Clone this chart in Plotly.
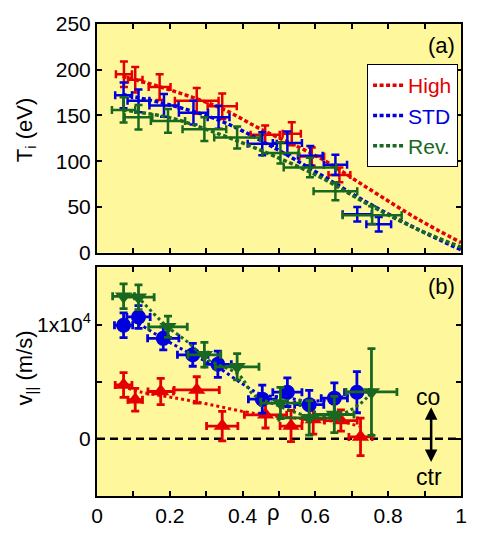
import plotly.graph_objects as go

# ---- panel (a): ion temperature profiles ----
high_rho = [0.074, 0.105, 0.172, 0.274, 0.344, 0.462, 0.535, 0.590, 0.666]
high_ti = [195, 189, 181, 166, 160, 129, 130, 105, 85]
high_ti_err = [14, 14, 14, 14, 14, 10, 12.5, 10, 8]
high_rho_err = [0.022, 0.02, 0.03, 0.06, 0.04, 0.04, 0.025, 0.034, 0.03]

std_rho = [0.073, 0.114, 0.184, 0.265, 0.334, 0.454, 0.523, 0.586, 0.655, 0.715, 0.774]
std_ti = [172, 166, 161, 153, 148, 119, 120, 106, 96, 42, 31]
std_ti_err = [14, 12.5, 12.5, 13, 12.5, 12.5, 12.5, 10.7, 11, 8, 8]
std_rho_err = [0.023, 0.03, 0.04, 0.04, 0.03, 0.04, 0.04, 0.034, 0.032, 0.04, 0.034]

rev_rho = [0.073, 0.114, 0.195, 0.295, 0.385, 0.504, 0.585, 0.655, 0.756]
rev_ti = [156, 148, 144, 135, 126, 109, 93, 67, 41]
rev_ti_err = [13.8, 13.4, 13, 13, 12, 11.6, 10.7, 9.8, 9.8]
rev_rho_err = [0.032, 0.038, 0.047, 0.06, 0.063, 0.05, 0.072, 0.06, 0.081]

# fitted profiles (dashed lines)
high_fit_rho = [0.07, 0.20, 0.34, 0.45, 0.61, 0.75, 0.88, 1.0]
high_fit_ti = [193, 178, 158, 135, 104, 69, 37, 11]
std_fit_rho = [0.07, 0.205, 0.34, 0.476, 0.611, 0.746, 0.881, 1.0]
std_fit_ti = [173, 161, 144, 117, 86, 54, 25.5, 3]
rev_fit_rho = [0.07, 0.205, 0.34, 0.449, 0.611, 0.746, 0.881, 1.0]
rev_fit_ti = [156, 147, 129, 112, 83, 52.6, 25.5, 6]

# ---- panel (b): parallel flow profiles ----
high_v_rho = [0.073, 0.105, 0.175, 0.274, 0.344, 0.463, 0.533, 0.594, 0.670, 0.724]
high_v = [4710, 3420, 4140, 4280, 1120, 2100, 1120, 1700, 1600, 170]
high_v_err = [1080, 1000, 1150, 1150, 1290, 1150, 1360, 1290, 930, 1640]
high_v_rho_err = [0.023, 0.02, 0.035, 0.062, 0.043, 0.058, 0.03, 0.03, 0.045, 0.032]

std_v_rho = [0.073, 0.114, 0.182, 0.263, 0.332, 0.454, 0.523, 0.583, 0.652, 0.714]
std_v = [9940, 10660, 8790, 7350, 6520, 3470, 4080, 2990, 3560, 4080]
std_v_err = [1080, 1000, 1000, 1000, 1150, 1220, 1250, 1250, 1340, 1800]
std_v_rho_err = [0.025, 0.032, 0.043, 0.042, 0.037, 0.038, 0.04, 0.04, 0.036, 0.034]

rev_v_rho = [0.073, 0.114, 0.195, 0.295, 0.385, 0.504, 0.583, 0.652, 0.754]
rev_v = [12470, 12390, 9800, 7350, 6300, 3130, 1840, 2130, 4100]
rev_v_err = [1080, 1080, 930, 1080, 1150, 1370, 1510, 1580, 3800]
rev_v_rho_err = [0.03, 0.043, 0.053, 0.045, 0.06, 0.054, 0.083, 0.054, 0.07]

high_vfit_rho = [0.07, 0.12, 0.22, 0.31, 0.40, 0.47, 0.55, 0.62, 0.67, 0.72]
high_vfit = [4600, 4100, 3550, 3000, 2400, 2050, 1800, 1600, 1500, 1100]
std_vfit_rho = [0.10, 0.18, 0.26, 0.33, 0.40, 0.45, 0.52, 0.58, 0.65, 0.71]
std_vfit = [10400, 8800, 7400, 6300, 4800, 3900, 3600, 3300, 3500, 4000]
rev_vfit_rho = [0.11, 0.19, 0.25, 0.30, 0.39, 0.43, 0.49, 0.58, 0.65, 0.72, 0.75]
rev_vfit = [12500, 9900, 8450, 7000, 5600, 3850, 3000, 2000, 1900, 3000, 3900]

RED = "rgb(228,0,0)"
BLUE = "rgb(0,0,220)"
GREEN = "rgb(24,104,34)"
BG = "#fff79c"
FONT = "Liberation Sans, Arial, Helvetica, sans-serif"

fig = go.Figure()

# panel (a)
for name, c, fx, fy, px, py, ex, ey in [
    ("High", RED, high_fit_rho, high_fit_ti, high_rho, high_ti, high_rho_err, high_ti_err),
    ("STD", BLUE, std_fit_rho, std_fit_ti, std_rho, std_ti, std_rho_err, std_ti_err),
    ("Rev.", GREEN, rev_fit_rho, rev_fit_ti, rev_rho, rev_ti, rev_rho_err, rev_ti_err),
]:
    fig.add_trace(go.Scatter(
        x=px, y=py, mode="markers", marker=dict(size=1, color=c), showlegend=False,
        error_x=dict(type="data", array=ex, color=c, thickness=2.5, width=4),
        error_y=dict(type="data", array=ey, color=c, thickness=2.5, width=4),
        xaxis="x", yaxis="y"))
    fig.add_trace(go.Scatter(
        x=fx, y=fy, mode="lines", line=dict(color=c, width=3.5, dash="4px,2.5px", shape="spline"),
        name=f'<span style="color:{c}">{name}</span>', xaxis="x", yaxis="y"))

# panel (b)
for c, sym, fx, fy, px, py, ex, ey in [
    (RED, "triangle-up", high_vfit_rho, high_vfit, high_v_rho, high_v, high_v_rho_err, high_v_err),
    (BLUE, "circle", std_vfit_rho, std_vfit, std_v_rho, std_v, std_v_rho_err, std_v_err),
    (GREEN, "triangle-down", rev_vfit_rho, rev_vfit, rev_v_rho, rev_v, rev_v_rho_err, rev_v_err),
]:
    fig.add_trace(go.Scatter(
        x=fx, y=fy, mode="lines", showlegend=False,
        line=dict(color=c, width=3, dash="3px,3px", shape="spline"),
        xaxis="x2", yaxis="y2"))
    fig.add_trace(go.Scatter(
        x=px, y=py, mode="markers", showlegend=False,
        marker=dict(symbol=sym, size=15, color=c),
        error_x=dict(type="data", array=ex, color=c, thickness=2.8, width=4),
        error_y=dict(type="data", array=ey, color=c, thickness=2.8, width=4),
        xaxis="x2", yaxis="y2"))

axis_common = dict(
    showline=True, linecolor="black", linewidth=2, mirror="ticks",
    ticks="inside", ticklen=5, tickwidth=2, tickcolor="black",
    showgrid=False, zeroline=False,
    tickfont=dict(size=21, color="black", family=FONT),
)
minor_ticks = dict(dtick=0.1, ticks="inside", ticklen=5, tickwidth=2, tickcolor="black")

# the page body keeps its default 8px margin, so the figure is 16px smaller
# than the 479x539 window to avoid overflow
fig.update_layout(
    width=463, height=523,
    margin=dict(l=89, r=4, t=16, b=26),
    paper_bgcolor="white", plot_bgcolor=BG,
    font=dict(family=FONT, color="black"),
    xaxis=dict(domain=[0, 1], range=[0, 1], dtick=0.2, showticklabels=False, anchor="y",
               minor=minor_ticks, **axis_common),
    yaxis=dict(domain=[0.5156, 1], range=[0, 250], dtick=50, anchor="x", **axis_common),
    xaxis2=dict(domain=[0, 1], range=[0, 1], dtick=0.2, anchor="y2",
                minor=minor_ticks, **axis_common),
    yaxis2=dict(domain=[0, 0.4844], range=[-5000, 15000], anchor="x2",
                tickvals=[0, 5000, 10000], ticktext=["0", "", "1x10<sup>4</sup>"],
                **axis_common),
    legend=dict(x=0.742, y=0.915, xanchor="left", yanchor="top",
                bgcolor="white", bordercolor="black", borderwidth=1,
                font=dict(size=21, family=FONT), tracegroupgap=0,
                itemwidth=30),
    shapes=[dict(type="line", xref="x2 domain", yref="y2", x0=0, x1=1, y0=0, y1=0,
                 line=dict(color="black", width=2.5, dash="8px,5px"), layer="below")],
    annotations=[
        dict(text="T<sub>i</sub> (eV)", x=-0.195, y=0.775, xref="paper", yref="paper",
             xanchor="center", yanchor="middle",
             textangle=-90, showarrow=False, font=dict(size=22)),
        dict(text="v<sub>||</sub> (m/s)", x=-0.195, y=0.27, xref="paper", yref="paper",
             xanchor="center", yanchor="middle",
             textangle=-90, showarrow=False, font=dict(size=22)),
        dict(text="\u03c1", x=0.486, y=-0.035, xref="paper", yref="paper",
             xanchor="center", yanchor="middle", showarrow=False, font=dict(size=22)),
        dict(text="(a)", x=0.99, y=0.954, xref="paper", yref="paper", xanchor="right",
             yanchor="middle", showarrow=False, font=dict(size=22)),
        dict(text="(b)", x=0.99, y=0.443, xref="paper", yref="paper", xanchor="right",
             yanchor="middle", showarrow=False, font=dict(size=22)),
        dict(text="co", x=0.908, y=3700, xref="x2", yref="y2", showarrow=False,
             xanchor="center", yanchor="middle", font=dict(size=23)),
        dict(text="ctr", x=0.912, y=-3340, xref="x2", yref="y2", showarrow=False,
             xanchor="center", yanchor="middle", font=dict(size=23)),
        dict(text="", x=0.918, y=2760, ax=0.918, ay=-2160, xref="x2", yref="y2",
             axref="x2", ayref="y2", showarrow=True, arrowhead=2, arrowsize=1,
             arrowwidth=2.5, arrowside="end+start", arrowcolor="black"),
    ],
)

fig.write_html("out.html")
